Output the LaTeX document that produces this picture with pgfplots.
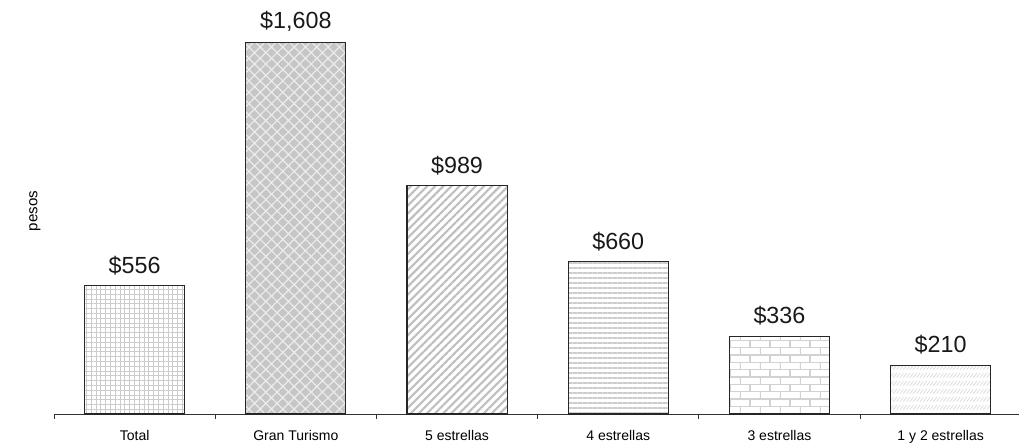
\documentclass[border=0pt]{standalone}
\usepackage{pgfplots}
\pgfplotsset{compat=1.18}
\usepackage{fontspec}
\setmainfont{Liberation Sans}
\usetikzlibrary{patterns,patterns.meta}

\pgfdeclarepatternformonly{mybricks}{\pgfqpoint{-0.1pt}{-0.1pt}}{\pgfqpoint{15.1pt}{11.1pt}}{\pgfqpoint{15pt}{11pt}}{%
  \pgfsetlinewidth{0.9pt}%
  \pgfpathmoveto{\pgfqpoint{0pt}{0pt}}\pgfpathlineto{\pgfqpoint{15pt}{0pt}}%
  \pgfpathmoveto{\pgfqpoint{0pt}{5.5pt}}\pgfpathlineto{\pgfqpoint{15pt}{5.5pt}}%
  \pgfpathmoveto{\pgfqpoint{0pt}{0pt}}\pgfpathlineto{\pgfqpoint{0pt}{5.5pt}}%
  \pgfpathmoveto{\pgfqpoint{7.5pt}{5.5pt}}\pgfpathlineto{\pgfqpoint{7.5pt}{11pt}}%
  \pgfusepath{stroke}}

\pgfdeclarepatternformonly{fineslash}{\pgfqpoint{-0.1pt}{-0.1pt}}{\pgfqpoint{2.6pt}{6.1pt}}{\pgfqpoint{2.5pt}{6pt}}{%
  \pgfsetlinewidth{0.5pt}%
  \pgfpathmoveto{\pgfqpoint{0pt}{1pt}}\pgfpathlineto{\pgfqpoint{3pt}{5pt}}%
  \pgfusepath{stroke}}

\begin{document}
\begin{tikzpicture}
\path[use as bounding box] (-40.5pt,-21.75pt) rectangle (723.75pt,310.5pt);
\begin{axis}[
  at={(0,0)}, anchor=south west,
  scale only axis,
  width=723.75pt, height=310.5pt,
  xmin=-0.5, xmax=5.486,
  ymin=0, ymax=1794,
  axis x line=bottom,
  axis y line=left,
  y axis line style={draw=none},
  ytick=\empty,
  x axis line style={-, black!80, line width=0.6pt},
  xtick={0,1,2,3,4,5},
  xticklabels={Total, Gran Turismo, 5 estrellas, 4 estrellas, 3 estrellas, 1 y 2 estrellas},
  minor xtick={-0.5,0.5,1.5,2.5,3.5,4.5},
  major tick length=0pt,
  minor tick length=3.75pt,
  tick align=outside,
  minor tick style={black!80, line width=0.6pt},
  xticklabel style={font=\fontsize{10.5}{12}\selectfont, yshift=-9pt},
  ylabel={pesos},
  ylabel style={at={(axis description cs:-0.0197,0.49)}, anchor=center, rotate=0, font=\fontsize{11.3}{13}\selectfont},
  ybar, bar width=75pt, bar shift=0pt,
  point meta=explicit symbolic,
  nodes near coords,
  every node near coord/.append style={font=\fontsize{17.5}{20}\selectfont, yshift=4.5pt, black!90},
  clip=false,
]
\addplot[draw=black!85, line width=0.8pt, fill=white, postaction={pattern={Hatch[angle=0,distance=3.6pt,line width=0.6pt]}, pattern color=gray!40}] coordinates {(0,556) [\$556]};
\addplot[draw=black!85, line width=0.8pt, fill=gray!45, postaction={pattern={Hatch[angle=45,distance=6pt,line width=0.9pt]}, pattern color=white!85!gray}] coordinates {(1,1608) [\$1,608]};
\addplot[draw=black!85, line width=0.8pt, fill=white, postaction={pattern={Lines[angle=45,distance=4.3pt,line width=1.6pt]}, pattern color=gray!50}] coordinates {(2,989) [\$989]};
\addplot[draw=black!85, line width=0.8pt, fill=white, postaction={pattern={Lines[angle=0,distance=3.75pt,line width=1.6pt]}, pattern color=gray!40}] coordinates {(3,660) [\$660]};
\addplot[draw=black!85, line width=0.8pt, fill=white, postaction={pattern=mybricks, pattern color=gray!35}] coordinates {(4,336) [\$336]};
\addplot[draw=black!85, line width=0.8pt, fill=white, postaction={pattern=fineslash, pattern color=gray!30}] coordinates {(5,210) [\$210]};
\end{axis}
\end{tikzpicture}
\end{document}
